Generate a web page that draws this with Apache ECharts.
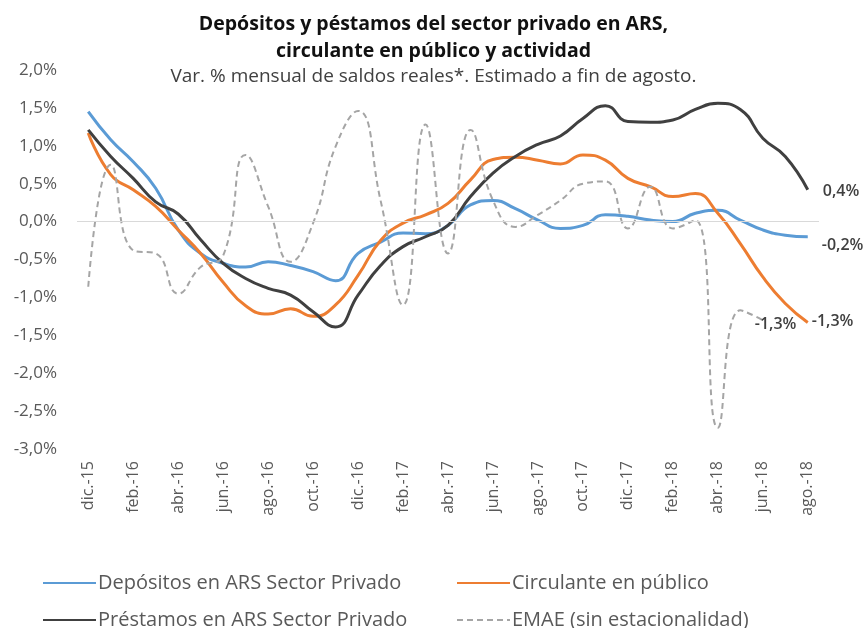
<!DOCTYPE html>
<html>
<head>
<meta charset="utf-8">
<script src="https://cdn.jsdelivr.net/npm/echarts@6/dist/echarts.min.js"></script>
<style>
  html, body { margin: 0; padding: 0; background: #fff; }
  #chart { width: 867px; height: 628px; }
</style>
</head>
<body>
<div id="chart"></div>
<script>
// meses (dic-15 a ago-18)
const months = ['dic.-15', 'ene.-16', 'feb.-16', 'mar.-16', 'abr.-16', 'may.-16', 'jun.-16', 'jul.-16',
    'ago.-16', 'sep.-16', 'oct.-16', 'nov.-16', 'dic.-16', 'ene.-17', 'feb.-17', 'mar.-17', 'abr.-17',
    'may.-17', 'jun.-17', 'jul.-17', 'ago.-17', 'sep.-17', 'oct.-17', 'nov.-17', 'dic.-17', 'ene.-18',
    'feb.-18', 'mar.-18', 'abr.-18', 'may.-18', 'jun.-18', 'jul.-18', 'ago.-18'];

const depositos = [1.45, 1.08, 0.79, 0.44, -0.11, -0.42, -0.55, -0.60, -0.53, -0.58, -0.66, -0.78,
    -0.42, -0.27, -0.15, -0.16, -0.05, 0.22, 0.28, 0.17, 0.02, -0.09, -0.05, 0.09, 0.07, 0.02, 0.00,
    0.11, 0.15, 0.02, -0.11, -0.18, -0.20];

const circulante = [1.17, 0.62, 0.42, 0.20, -0.11, -0.42, -0.80, -1.11, -1.22, -1.15, -1.25, -1.10,
    -0.71, -0.25, -0.02, 0.09, 0.24, 0.55, 0.82, 0.85, 0.81, 0.76, 0.88, 0.81, 0.57, 0.46, 0.33,
    0.37, 0.11, -0.29, -0.73, -1.08, -1.33];

const prestamos = [1.21, 0.86, 0.57, 0.26, 0.10, -0.24, -0.55, -0.75, -0.88, -0.97, -1.19, -1.39,
    -0.97, -0.58, -0.33, -0.20, -0.05, 0.33, 0.64, 0.86, 1.02, 1.13, 1.36, 1.53, 1.32, 1.31, 1.34,
    1.48, 1.56, 1.48, 1.10, 0.86, 0.42];

// EMAE llega hasta jun-18
const emae = [-0.86, 0.75, -0.38, -0.42, -0.95, -0.60, -0.45, 0.88, 0.20, -0.53, -0.02, 0.99,
    1.46, 0.28, -1.10, 1.28, -0.42, 1.21, 0.28, -0.07, 0.09, 0.28, 0.50, 0.53, -0.09, 0.46, -0.09,
    0.02, -2.72, -1.17, -1.30];

const names = ['Depósitos en ARS Sector Privado', 'Circulante en público',
    'Préstamos en ARS Sector Privado', 'EMAE (sin estacionalidad)'];

const FONT = "'Open Sans', 'Noto Sans', sans-serif";
const pct = v => v.toFixed(1).replace('.', ',') + '%';

const chart = echarts.init(document.getElementById('chart'));

const endLabel = (offset) => ({
    show: true,
    formatter: p => pct(p.value),
    color: '#404040',
    fontFamily: FONT,
    fontSize: 16,
    fontWeight: 600,
    distance: 6,
    offset: offset
});

const legendAt = (name, left, top) => ({
    data: [name],
    left: left,
    top: top,
    padding: 0,
    itemWidth: 53,
    itemHeight: 14,
    itemStyle: { opacity: 0 },
    textStyle: { fontFamily: FONT, fontSize: 20, color: '#595959', padding: [0, 0, 0, -3] }
});

const option = {
    backgroundColor: '#fff',
    animation: false,
    title: {
        text: 'Depósitos y péstamos del sector privado en ARS,\ncirculante en público y actividad',
        subtext: 'Var. % mensual de saldos reales*. Estimado a fin de agosto.',
        left: 'center',
        top: 6,
        itemGap: 1,
        textStyle: { fontFamily: FONT, fontSize: 19.5, fontWeight: 'bold', color: '#111', lineHeight: 27 },
        subtextStyle: { fontFamily: FONT, fontSize: 19, color: '#404040', lineHeight: 22 }
    },
    legend: [
        legendAt(names[0], 42, 573),
        legendAt(names[1], 456, 573),
        legendAt(names[2], 42, 610),
        legendAt(names[3], 456, 610)
    ],
    grid: { left: 77, right: 48, top: 70, bottom: 179, outerBoundsMode: 'none' },
    xAxis: {
        type: 'category',
        data: months,
        boundaryGap: true,
        axisLine: { show: false },
        axisTick: { show: false },
        axisLabel: {
            rotate: 90,
            interval: 1,
            margin: 12,
            fontFamily: FONT,
            fontSize: 16,
            color: '#595959'
        }
    },
    yAxis: {
        type: 'value',
        min: -3,
        max: 2,
        interval: 0.5,
        axisLine: { show: false },
        axisTick: { show: false },
        splitLine: { show: false },
        axisLabel: {
            formatter: pct,
            margin: 20,
            fontFamily: FONT,
            fontSize: 17,
            color: '#595959'
        }
    },
    series: [
        {
            name: names[0],
            type: 'line',
            data: depositos,
            smooth: true,
            symbol: 'none',
            lineStyle: { color: '#5b9bd5', width: 3 },
            itemStyle: { color: '#5b9bd5' },
            endLabel: endLabel([8, 9]),
            markLine: {
                silent: true,
                symbol: 'none',
                label: { show: false },
                lineStyle: { color: '#d9d9d9', width: 1, type: 'solid' },
                data: [{ yAxis: 0 }]
            }
        },
        {
            name: names[1],
            type: 'line',
            data: circulante,
            smooth: true,
            symbol: 'none',
            lineStyle: { color: '#ed7d31', width: 3 },
            itemStyle: { color: '#ed7d31' },
            endLabel: endLabel([-2, -1])
        },
        {
            name: names[2],
            type: 'line',
            data: prestamos,
            smooth: true,
            symbol: 'none',
            lineStyle: { color: '#404040', width: 3 },
            itemStyle: { color: '#404040' },
            endLabel: endLabel([9, 2])
        },
        {
            name: names[3],
            type: 'line',
            data: emae,
            smooth: true,
            symbol: 'none',
            lineStyle: { color: '#a5a5a5', width: 2, type: [6, 4] },
            itemStyle: { color: '#a5a5a5' },
            endLabel: endLabel([-14, 4])
        }
    ]
};

chart.setOption(option);
</script>
</body>
</html>
